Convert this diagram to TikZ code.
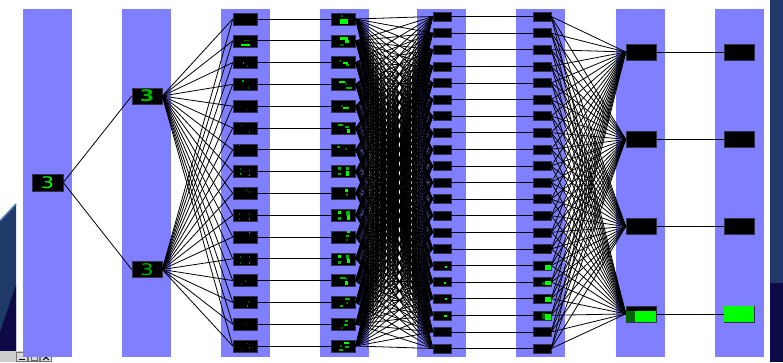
\documentclass[tikz,border=0pt]{standalone}
\usepackage{tikz}
\usepackage{fontspec}
\usetikzlibrary{calc}

\newfontfamily\digitfont{DejaVu Sans}

\definecolor{barblue}{HTML}{8080FF}
\definecolor{deskblue}{HTML}{1F3A68}
\definecolor{desknavy}{HTML}{0E0A48}
\definecolor{deskedge}{HTML}{4A7AB0}
\definecolor{frame}{HTML}{323250}
\definecolor{lit}{HTML}{00FF00}
\definecolor{mid}{HTML}{00B400}
\definecolor{dim}{HTML}{006400}

\newcommand{\wide}[1]{\scalebox{1.3}[1]{#1}}

\tikzset{
  map/.style={draw=frame, line width=0.5pt, fill=black, inner sep=0pt},
  bigmap/.style={map, minimum width=30pt, minimum height=16pt},
  midmap/.style={map, minimum width=24pt, minimum height=12pt},
  smallmap/.style={map, minimum width=18pt, minimum height=9pt},
  wire/.style={black, line width=0.8pt},
  digit/.style={font=\digitfont\fontsize{16}{16}\selectfont}
}

\begin{document}
\begin{tikzpicture}[x=1pt, y=-1pt]
  \useasboundingbox (0,0) rectangle (783,362);

  \fill[deskblue] (0,221) -- (16,204) -- (16,352) -- (0,352) -- cycle;
  \fill[desknavy] (0,332) -- (16,285) -- (16,352) -- (0,352) -- cycle;
  \draw[deskedge, line width=1.5pt] (0,221) -- (16,204);
  \fill[deskblue] (770,0) rectangle (783,283);
  \fill[desknavy] (770,283) rectangle (783,362);

  \fill[black!20] (0,351) rectangle (52,362);
  \foreach \x in {16,28,40}
    \draw[fill=black!15, draw=black!55] (\x,352.5) rectangle +(11.5,9);
  \draw[line width=1.2pt] (19,359.5) -- (24.5,359.5);
  \draw[black!60] (31,355) rectangle (37,360);
  \draw[line width=0.9pt] (43,355) -- (49,360) (43,360) -- (49,355);

  \foreach \x in {23,122,221,320,417,516,616,715}
    \fill[barblue] (\x,9) rectangle +(49,348);

  \node[map, minimum width=31pt, minimum height=17pt, digit, text=lit] (in) at (47.5,182.5) {\wide{3}};
  \node[bigmap, digit, text=mid, font=\digitfont\bfseries\fontsize{16}{16}\selectfont] (s1) at (147,96) {\wide{3}};
  \node[bigmap, digit, text=mid] (s2) at (147,269.5) {\wide{3}};

  \foreach \i in {1,...,16} {
    \node[midmap] (c\i) at (245,{19+(\i-1)*21.8}) {};
    \node[midmap] (d\i) at (343.5,{19+(\i-1)*21.8}) {};
  }
  \foreach \i in {1,...,21} {
    \node[smallmap] (e\i) at (442,{16.5+(\i-1)*16.6}) {};
    \node[smallmap] (f\i) at (542,{16.5+(\i-1)*16.6}) {};
  }
  \foreach \i in {1,...,4} {
    \node[bigmap] (g\i) at (641,{52+(\i-1)*87.3}) {};
    \node[bigmap] (h\i) at (739,{52+(\i-1)*87.3}) {};
  }
  \fill[lit] (h4.north west) rectangle (h4.south east);

  \draw[wire] (in.east) -- (s1.west);
  \draw[wire] (in.east) -- (s2.west);
  \foreach \j in {1,2}
    \foreach \i in {1,...,16}
      \draw[wire] (s\j.east) -- (c\i.west);
  \foreach \i in {1,...,16}
    \draw[wire] (c\i.east) -- (d\i.west);
  \foreach \i in {1,...,16}
    \foreach \k in {1,...,21}
      \draw[wire] (d\i.east) -- (e\k.west);
  \foreach \k in {1,...,21}
    \draw[wire] (e\k.east) -- (f\k.west);
  \foreach \k in {1,...,21}
    \foreach \m in {1,...,4}
      \draw[wire] (f\k.east) -- (g\m.west);
  \foreach \m in {1,...,4}
    \draw[wire] (g\m.east) -- (h\m.west);

  \foreach \n/\dx/\dy/\w/\h/\c in {
      c2/8/9/9/2/lit, c2/11/5/5/1/dim, c3/10/6/1.5/1.5/mid, c3/14/9/1.5/1.5/dim,
      c4/9/2/2/1.5/mid, c4/15/9/1.5/1.5/dim, c5/14/9/1.5/1.5/dim,
      c6/8/3/1.5/1.5/dim, c6/16/10/1.5/1.5/mid, c7/6/1/1.5/1.5/dim,
      c8/7/3/1.5/2/dim, c8/7/8/1.5/2/mid, c8/16/4/1.5/2/dim, c8/16/9/1.5/2/mid,
      c9/13/2/1.5/1.5/dim, c9/16/4/1.5/1.5/dim,
      c10/6/4/1.5/2/dim, c10/16/4/1.5/2/dim, c10/16/9/1.5/2/mid, c10/6/9/1.5/2/dim,
      c11/16/1/1.5/1.5/lit,
      c12/7/3/1.5/2/dim, c12/16/3/1.5/2/dim, c12/16/9/1.5/2/mid, c12/7/9/1.5/2/dim,
      c13/12/6/1.5/1.5/dim, c13/8/9/1.5/1.5/dim, c14/15/5/1.5/1.5/dim, c14/14/9/1.5/1.5/mid,
      c15/12/6/1.5/1.5/dim, c16/14/3/1.5/1.5/dim, c16/16/7/1.5/1.5/mid, c16/8/10/1.5/1.5/dim,
      d1/10/2/2/2/dim, d1/9/6/8/5/lit,
      d2/9/2/8/3/lit, d2/14/5/4/3/lit, d2/9/9/4/2/dim,
      d3/8/4/2/1.5/dim, d3/12/6/5/2/lit, d3/15/8/3/2/mid,
      d4/8/3/6/2/lit, d4/14/5/2/2/dim, d4/15/9/6/2/mid,
      d5/10/5/2/2/dim, d5/12/7/6/2/lit, d5/16/8/2/2/dim,
      d6/7/2/5/2/mid, d6/14/4/4/2/mid, d6/16/7/3/4/lit,
      d7/6/2/3/2/mid, d7/14/4/2/2/dim,
      d8/7/2/3/3/mid, d8/7/8/3/2/mid, d8/15/2/3/3/mid, d8/15/6/3/5/lit,
      d9/14/2/3/3/lit, d9/15/6/2/3/dim,
      d10/7/2/3/3/lit, d10/7/8/3/3/mid, d10/15/2/4/4/mid, d10/16/6/3/5/lit,
      d11/16/0.5/3/2/lit, d11/15/4/3/2/mid, d11/15/8/2/2/dim,
      d12/7/2/3/3/lit, d12/7/8/3/3/mid, d12/15/2/3/4/mid, d12/16/6/3/4/lit,
      d13/9/3/6/2/mid, d13/14/4/2/2/dim, d13/14/7/3/4/lit,
      d14/14/2/5/2/mid, d14/15/6/2/2/dim, d14/9/9/3/2/mid,
      d15/14/2/3/2/mid, d15/13/6/4/2/mid, d15/10/9/2/2/dim,
      d16/13/2/5/2/lit, d16/9/5/2/2/dim, d16/14/6/4/2/mid, d16/8/9/4/2/mid,
      e16/12/5/2/2/lit, e17/11/5/2/1.5/lit, e18/12/4/2/2/lit, e19/11/4/3/2/lit,
      f16/12/4/6/5/lit, f17/9/5/3/3/dim, f17/12/4/6/4/lit, f18/12/3/6/5/lit,
      f19/9/2/4/6/dim, f19/12/3/6/6/lit,
      g4/0/5/9/11/dim, g4/9/5/21/11/lit}
    \fill[\c] ([shift={(\dx,\dy)}]\n.north west) rectangle +(\w,\h);
\end{tikzpicture}
\end{document}
